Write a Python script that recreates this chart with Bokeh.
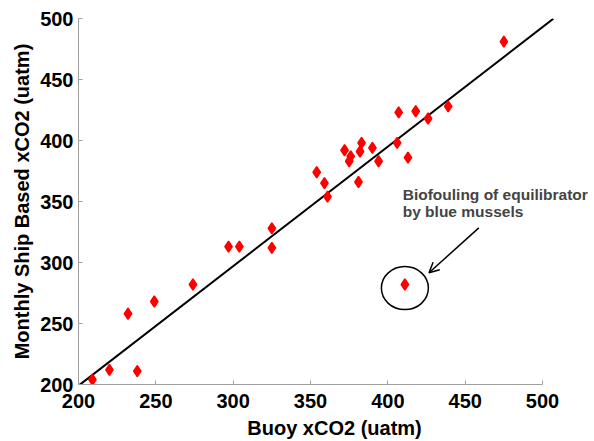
from bokeh.plotting import figure
from bokeh.models import Range1d, Label, Arrow, OpenHead, FixedTicker
from bokeh.embed import file_html
from bokeh.resources import INLINE

# Data
buoy_xco2 = [209, 220, 232, 238, 249, 274, 297, 304, 325, 325,
             354, 359, 361, 372, 376, 375, 383, 382, 390, 381,
             394, 407, 418, 426, 439, 406, 413, 475, 411]
ship_xco2 = [204, 212, 258, 211, 268, 282, 313, 313, 328, 312,
             374, 365, 354, 392, 387, 383, 398, 391, 394, 366,
             383, 423, 424, 418, 428, 398, 386, 481, 282]

# Regression line
fit_slope = 0.98
fit_intercept = 3.0
fit_x = [200, 507]
fit_y = [fit_slope * v + fit_intercept for v in fit_x]

# Highlighted outlier
outlier_x = [411]
outlier_y = [279]

tick_values = [200, 250, 300, 350, 400, 450, 500]

FONT = "Liberation Sans"

p = figure(frame_width=512, frame_height=366,
           x_range=Range1d(200, 531), y_range=Range1d(200, 500),
           output_backend="svg", toolbar_location=None,
           min_border_left=78, min_border_top=18,
           min_border_right=0, min_border_bottom=0)

p.outline_line_color = None
p.grid.visible = False
p.background_fill_color = "white"
p.border_fill_color = "white"

for ax in (p.xaxis[0], p.yaxis[0]):
    ax.ticker = FixedTicker(ticks=tick_values)
    ax.axis_line_color = "#a0a0a0"
    ax.axis_line_width = 1
    ax.major_tick_line_color = "#a0a0a0"
    ax.major_tick_in = 4
    ax.major_tick_out = 0
    ax.minor_tick_line_color = None
    ax.major_label_text_font = FONT
    ax.major_label_text_font_style = "bold"
    ax.major_label_text_font_size = "20px"
    ax.major_label_text_color = "black"
    ax.axis_label_text_font = FONT
    ax.axis_label_text_font_style = "bold"
    ax.axis_label_text_font_size = "20px"
    ax.axis_label_text_color = "black"

p.xaxis.bounds = (200, 500)
p.xaxis.axis_label = "Buoy xCO2 (uatm)"
p.yaxis.axis_label = "Monthly Ship Based xCO2 (uatm)"
p.xaxis.major_label_standoff = 9
p.xaxis.axis_label_standoff = 6
p.yaxis.major_label_standoff = 5
p.yaxis.axis_label_standoff = 4

p.line(fit_x, fit_y, line_color="black", line_width=2)

p.scatter(buoy_xco2, ship_xco2, marker="diamond", size=11,
          fill_color="#ff0000", line_color="#ff0000", line_width=1.5)

p.ellipse(x=outlier_x, y=outlier_y, width=47, height=43,
          width_units="screen", height_units="screen",
          fill_color=None, line_color="black", line_width=1.5)

p.add_layout(Arrow(end=OpenHead(size=10, line_width=1.5, line_color="black"),
                   x_start=458.8, y_start=328.4, x_end=426.6, y_end=291.6,
                   line_color="black", line_width=1.5))

p.add_layout(Label(x=409.6, y=355.5, text="Biofouling of equilibrator",
                   text_font=FONT, text_font_style="bold",
                   text_font_size="15.5px", text_baseline="alphabetic"))
p.add_layout(Label(x=409.6, y=341.5, text="by blue mussels",
                   text_font=FONT, text_font_style="bold",
                   text_font_size="15.5px", text_baseline="alphabetic"))

open("out.html", "w").write(file_html(p, INLINE))
